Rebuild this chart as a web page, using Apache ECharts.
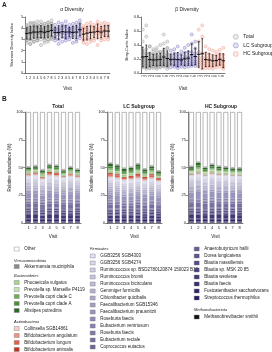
<!DOCTYPE html>
<html><head><meta charset="utf-8">
<script src="https://cdn.jsdelivr.net/npm/echarts@6/dist/echarts.min.js"></script>
<style>html,body{margin:0;padding:0;background:#fff}#c{width:272px;height:352px}</style>
</head><body><div id="c"></div>
<script>
// ---------- DATA ----------
const visits = ['1','2','3','4','5','6','7','8'];
const groupNames = ['Total','LC Subgroup','HC Subgroup'];

// Panel A: Shannon diversity per subject, per visit
const alphaLC = [
  [4.3,4.0,3.9,3.7,3.6,3.3,3.1,2.9],[4.5,4.1,3.9,3.8,3.6,3.4,3.0,2.6],
  [4.4,4.2,4.0,3.8,3.5,3.2,2.8,3.6],[4.6,4.2,4.0,3.7,3.5,3.3,3.1,2.9],
  [4.3,4.0,3.8,3.6,3.5,3.2,3.0,3.9],[4.4,4.1,3.9,3.7,3.4,3.2,2.7,3.6],
  [4.5,4.2,4.0,3.8,3.6,3.3,3.0,2.8],[4.4,4.1,3.9,3.8,3.6,3.3,3.1,4.7]];
const alphaHC = [
  [4.2,4.0,3.8,3.6,3.4,3.1,2.9,2.7],[4.4,4.1,3.9,3.7,3.5,3.2,3.0,2.6],
  [4.5,4.2,3.9,3.6,3.3,3.0,2.8,3.7],[4.3,4.0,3.8,3.6,3.4,3.1,2.9,4.1],
  [4.6,4.3,4.0,3.7,3.5,3.2,2.5,3.9],[4.4,4.1,3.9,3.6,3.4,3.1,2.9,3.8],
  [4.5,4.2,4.0,3.8,3.5,3.3,3.0,3.7],[4.4,4.1,3.9,3.7,3.4,3.2,3.0,4.2]];
// Panel A: Bray-Curtis per subject, per visit
const betaLC = [
  [0.32,0.26,0.22,0.20,0.18,0.15,0.12,0.08],[0.34,0.28,0.24,0.20,0.17,0.14,0.11,0.09],
  [0.38,0.27,0.23,0.19,0.16,0.13,0.10,0.07],[0.31,0.26,0.21,0.19,0.17,0.15,0.12,0.09],
  [0.36,0.29,0.24,0.21,0.18,0.14,0.11,0.08],[0.40,0.30,0.25,0.21,0.18,0.15,0.12,0.09],
  [0.55,0.42,0.30,0.24,0.20,0.16,0.13,0.10],[0.45,0.35,0.28,0.23,0.19,0.16,0.13,0.10]];
const betaHC = [
  [0.62,0.45,0.30,0.22,0.18,0.15,0.12,0.09],[0.68,0.52,0.28,0.22,0.18,0.15,0.11,0.06],
  [0.38,0.28,0.23,0.19,0.16,0.13,0.10,0.07],[0.34,0.27,0.22,0.19,0.16,0.13,0.10,0.07],
  [0.32,0.25,0.21,0.18,0.15,0.12,0.10,0.06],[0.30,0.25,0.21,0.18,0.16,0.13,0.11,0.08],
  [0.33,0.27,0.23,0.20,0.17,0.14,0.12,0.09],[0.36,0.26,0.21,0.17,0.14,0.11,0.09,0.06]];

// Panel B: taxa
const firmNames = ['GGB3256 SGB4303','GGB3256 SGB4274','Ruminococcus sp. BSD2780120874 150023 B10',
  'Ruminococcus bromii','Ruminococcus bicirculans','Gemmiger formicilis','Cibionibacter quicibalis',
  'Faecalibacterium SGB15346','Faecalibacterium prausnitzii','Roseburia faecis','Eubacterium ventriosum',
  'Roseburia faecis ','Eubacterium rectale','Coprococcus eutactus','Anaerobutyricum hallii',
  'Dorea longicatena','Blautia massiliensis','Blautia sp. MSK 20 85','Blautia wexlerae','Blautia faecis',
  'Fusicatenibacter saccharivorans','Streptococcus thermophilus'];
const bacteroNames = ['Phocaeicola vulgatus','Prevotella sp. Marseille P4119','Prevotella copri clade C',
  'Prevotella copri clade A','Alistipes putredinis'];
const actinoNames = ['Collinsella SGB14861','Bifidobacterium angulatum','Bifidobacterium longum','Bifidobacterium animalis'];
const akkName = 'Akkermansia muciniphila';
const methName = 'Methanobrevibacter smithii';
const otherName = 'Other';

// Relative abundance (%) per visit 1..8
const firmTotal = [
  [3.0,3.3,2.8,3.0,3.2,2.9,3.0,3.1],[2.0,2.0,2.0,2.0,2.0,2.0,2.0,2.0],[1.2,1.2,1.2,1.2,1.2,1.2,1.2,1.2],
  [2.6,3.0,2.0,2.5,2.8,2.4,2.7,2.3],[1.5,1.5,1.5,1.5,1.5,1.5,1.5,1.5],[2.0,1.7,2.2,2.0,1.8,2.1,2.0,1.9],
  [1.2,1.2,1.2,1.2,1.2,1.2,1.2,1.2],[2.0,2.2,1.8,2.1,1.9,2.0,2.3,1.8],[5.0,4.8,4.0,5.2,4.6,4.5,4.9,4.6],
  [1.5,1.5,1.5,1.5,1.5,1.5,1.5,1.5],[1.2,1.2,1.2,1.2,1.2,1.2,1.2,1.2],[1.5,1.5,1.5,1.5,1.5,1.5,1.5,1.5],
  [4.0,4.3,3.1,3.9,3.7,3.5,3.6,3.5],[1.0,1.0,1.0,1.0,1.0,1.0,1.0,1.0],[1.5,1.3,1.7,1.4,1.6,1.5,1.2,1.7],
  [1.5,1.5,1.5,1.5,1.5,1.5,1.5,1.5],[1.5,1.5,1.5,1.5,1.5,1.5,1.5,1.5],[1.0,1.0,1.0,1.0,1.0,1.0,1.0,1.0],
  [3.5,3.5,3.0,3.5,3.5,3.2,3.4,3.2],[1.0,1.0,1.0,1.0,1.0,1.0,1.0,1.0],[1.5,1.5,1.5,1.5,1.5,1.5,1.5,1.5],
  [1.0,1.0,1.0,1.0,1.0,1.0,1.0,1.0]];
const firmLC = [
  [2.8,3.0,3.2,2.9,3.1,2.8,3.0,3.2],[2.0,2.0,2.0,2.0,2.0,2.0,2.0,2.0],[1.2,1.2,1.2,1.2,1.2,1.2,1.2,1.2],
  [2.4,2.2,1.9,2.0,2.2,1.8,2.2,1.7],[1.5,1.5,1.5,1.5,1.5,1.5,1.5,1.5],[2.2,2.0,1.8,2.1,1.9,2.2,2.0,1.8],
  [1.2,1.2,1.2,1.2,1.2,1.2,1.2,1.2],[2.1,1.9,2.0,2.2,1.8,2.0,2.1,1.9],[4.6,4.3,3.8,4.0,4.3,3.6,4.3,3.5],
  [1.5,1.5,1.5,1.5,1.5,1.5,1.5,1.5],[1.2,1.2,1.2,1.2,1.2,1.2,1.2,1.2],[1.5,1.5,1.5,1.5,1.5,1.5,1.5,1.5],
  [3.6,3.3,2.9,3.0,3.3,2.8,3.3,2.6],[1.0,1.0,1.0,1.0,1.0,1.0,1.0,1.0],[1.4,1.6,1.5,1.3,1.7,1.5,1.4,1.6],
  [1.5,1.5,1.5,1.5,1.5,1.5,1.5,1.5],[1.5,1.5,1.5,1.5,1.5,1.5,1.5,1.5],[1.0,1.0,1.0,1.0,1.0,1.0,1.0,1.0],
  [3.0,2.8,2.5,2.6,2.8,2.4,2.8,2.3],[1.0,1.0,1.0,1.0,1.0,1.0,1.0,1.0],[1.5,1.5,1.5,1.5,1.5,1.5,1.5,1.5],
  [1.0,1.0,1.0,1.0,1.0,1.0,1.0,1.0]];
const firmHC = [
  [3.1,2.9,3.0,3.3,2.8,3.0,3.2,2.9],[2.0,2.0,2.0,2.0,2.0,2.0,2.0,2.0],[1.2,1.2,1.2,1.2,1.2,1.2,1.2,1.2],
  [2.8,3.0,2.7,3.0,2.8,2.9,2.6,2.8],[1.5,1.5,1.5,1.5,1.5,1.5,1.5,1.5],[1.9,2.1,2.0,1.7,2.2,2.0,1.8,2.1],
  [1.2,1.2,1.2,1.2,1.2,1.2,1.2,1.2],[1.9,2.1,2.2,1.8,2.0,2.1,1.9,2.0],[5.2,5.5,5.0,5.5,5.2,5.1,5.1,4.9],
  [1.5,1.5,1.5,1.5,1.5,1.5,1.5,1.5],[1.2,1.2,1.2,1.2,1.2,1.2,1.2,1.2],[1.5,1.5,1.5,1.5,1.5,1.5,1.5,1.5],
  [4.1,4.4,4.0,4.4,4.1,4.2,3.9,4.1],[1.0,1.0,1.0,1.0,1.0,1.0,1.0,1.0],[1.6,1.4,1.3,1.7,1.5,1.4,1.6,1.5],
  [1.5,1.5,1.5,1.5,1.5,1.5,1.5,1.5],[1.5,1.5,1.5,1.5,1.5,1.5,1.5,1.5],[1.0,1.0,1.0,1.0,1.0,1.0,1.0,1.0],
  [3.5,3.7,3.4,3.7,3.5,3.4,3.5,3.3],[1.0,1.0,1.0,1.0,1.0,1.0,1.0,1.0],[1.5,1.5,1.5,1.5,1.5,1.5,1.5,1.5],
  [1.0,1.0,1.0,1.0,1.0,1.0,1.0,1.0]];
const actinoTotal = [[0.4,0.4,0.4,0.5,0.5,0.3,0.4,0.4],[0.4,0.5,0.4,0.6,0.6,0.3,0.5,0.4],
  [0.7,0.9,0.7,1.4,1.3,0.5,0.9,0.7],[0.5,0.7,0.5,1.0,1.1,0.4,0.7,0.5]];
const actinoLC = [[0.6,0.6,0.5,0.5,0.7,0.5,0.6,0.5],[0.8,0.8,0.6,0.7,0.9,0.7,0.8,0.6],
  [1.5,1.4,1.1,1.3,1.7,1.3,1.5,1.1],[1.1,1.2,0.8,1.0,1.2,1.0,1.1,0.8]];
const actinoHC = [[0.3,0.3,0.2,0.3,0.3,0.2,0.2,0.2],[0.3,0.4,0.3,0.4,0.3,0.3,0.3,0.3],
  [0.3,0.4,0.3,0.4,0.3,0.3,0.3,0.3],[0.3,0.4,0.2,0.4,0.3,0.2,0.2,0.2]];
const bacteroTotal = [[1.5,1.6,1.7,1.8,1.7,1.4,1.5,1.4],[0.5,0.5,0.5,0.6,0.5,0.4,0.5,0.4],
  [0.8,0.8,0.9,0.9,0.9,0.7,0.8,0.7],[1.2,1.2,1.3,1.3,1.3,1.1,1.2,1.1],[1.5,1.5,1.5,1.5,1.5,1.3,1.5,1.3]];
const bacteroLC = [[2.2,2.0,1.9,1.9,2.1,1.7,1.8,1.5],[0.7,0.6,0.6,0.6,0.7,0.5,0.5,0.5],
  [1.3,1.2,1.1,1.1,1.3,1.0,1.1,0.9],[2.0,1.9,1.7,1.7,2.0,1.6,1.6,1.4],[2.2,2.1,2.0,1.9,2.1,1.9,1.9,1.6]];
const bacteroHC = [[1.4,2.0,1.4,1.6,1.5,1.4,1.3,1.3],[1.0,1.4,1.0,1.1,1.0,0.9,0.9,0.9],
  [0.8,1.1,0.8,0.9,0.8,0.8,0.7,0.7],[1.4,2.0,1.4,1.6,1.5,1.4,1.3,1.3],[1.6,2.2,1.6,1.7,1.6,1.5,1.4,1.4]];
const akkTotal = [0.6,0.6,0.6,0.6,0.6,0.6,0.6,0.6];
const akkLC = [0.6,0.6,0.6,0.6,0.6,0.6,0.6,0.6];
const akkHC = [0.6,0.6,0.6,0.6,0.6,0.6,0.6,0.6];
const methTotal = [0.3,0.3,0.3,0.3,0.3,0.3,0.3,0.3];
const methLC = [0.3,0.3,0.3,0.3,0.3,0.3,0.3,0.3];
const methHC = [0.3,0.3,0.3,0.3,0.3,0.3,0.3,0.3];
const otherTotal = [49.4,48.3,52.0,47.3,48.0,52.0,49.4,51.5];
const otherLC = [46.0,47.6,50.6,49.7,46.7,51.2,48.5,53.0];
const otherHC = [49.0,45.2,49.7,47.0,48.8,49.4,50.3,50.3];

// ---------- STYLE ----------
const FONT = 'Liberation Sans, Arial, sans-serif';
const TXT = '#222';
const groupColors = {'Total':'#9a9a9a','LC Subgroup':'#7a72c2','HC Subgroup':'#ef9584'};
function lerp(a,b,t){return Math.round(a+(b-a)*t);}
const firmColors = firmNames.map((_,i)=>{
  const t=i/(firmNames.length-1), a=[226,224,243], b=[38,28,100];
  return 'rgb('+lerp(a[0],b[0],t)+','+lerp(a[1],b[1],t)+','+lerp(a[2],b[2],t)+')';
});
const bacteroColors = ['#a9d392','#c9e4b8','#6fae55','#4c8f3d','#2c6a27'];
const actinoColors = ['#f5cfc8','#ec9584','#e0604d','#c4321f'];
const akkColor = '#8a8a8a', methColor = '#111111', otherColor = '#ffffff';

function mean(a){return a.reduce((s,x)=>s+x,0)/a.length;}
function sd(a){const m=mean(a);return Math.sqrt(a.reduce((s,x)=>s+(x-m)*(x-m),0)/(a.length-1));}

const cats24 = visits.concat(visits, visits);
const alphaTotal = alphaLC.map((a,i)=>a.concat(alphaHC[i]));
const betaTotal = betaLC.map((a,i)=>a.concat(betaHC[i]));

function pts(lists, off){const o=[];lists.forEach((vals,v)=>vals.forEach(y=>o.push([off+v,y])));return o;}
function stats(lists, off){return lists.map((vals,v)=>[off+v, mean(vals), sd(vals)]);}

function errRender(params, api){
  const x=api.value(0), m=api.value(1), s=api.value(2);
  const c=api.coord([x,m]), t=api.coord([x,m+s]), b=api.coord([x,Math.max(0,m-s)]);
  const w=api.size([1,0])[0];
  const st={stroke:'#000', lineWidth:0.7};
  return {type:'group', children:[
    {type:'line', shape:{x1:c[0]-w*0.5,y1:c[1],x2:c[0]+w*0.5,y2:c[1]}, style:{stroke:'#000',lineWidth:0.9}},
    {type:'line', shape:{x1:t[0],y1:t[1],x2:b[0],y2:b[1]}, style:st},
    {type:'line', shape:{x1:t[0]-w*0.25,y1:t[1],x2:t[0]+w*0.25,y2:t[1]}, style:st},
    {type:'line', shape:{x1:b[0]-w*0.25,y1:b[1],x2:b[0]+w*0.25,y2:b[1]}, style:st}
  ]};
}

const series = [];
function addScatter(ax, dataSets){
  ['Total','LC Subgroup','HC Subgroup'].forEach((g,gi)=>{
    const col = groupColors[g];
    series.push({type:'scatter', name:g, xAxisIndex:ax, yAxisIndex:ax, symbolSize:3,
      data: pts(dataSets[gi], gi*8),
      itemStyle:{color: echarts.color.modifyAlpha(col,0.25), borderColor:col, borderWidth:0.6}});
    series.push({type:'custom', name:g+' mean', xAxisIndex:ax, yAxisIndex:ax, renderItem:errRender,
      encode:{x:0,y:1}, data: stats(dataSets[gi], gi*8), z:5, silent:true});
  });
}
addScatter(0, [alphaTotal, alphaLC, alphaHC]);
addScatter(1, [betaTotal, betaLC, betaHC]);

function barS(ax, stack, name, data, color, extra){
  const s = {type:'bar', name, xAxisIndex:ax, yAxisIndex:ax, stack, data, barWidth:5,
    itemStyle:{color, borderColor:'rgba(90,90,90,0.35)', borderWidth:0.2}};
  if(extra) Object.assign(s.itemStyle, extra);
  series.push(s);
}
function addStack(ax, stack, firm, actino, bactero, akk, meth, other){
  barS(ax, stack, methName, meth, methColor);
  for(let i=firm.length-1;i>=0;i--) barS(ax, stack, firmNames[i], firm[i], firmColors[i]);
  for(let i=0;i<actino.length;i++) barS(ax, stack, actinoNames[i], actino[i], actinoColors[i]);
  for(let i=0;i<bactero.length;i++) barS(ax, stack, bacteroNames[i], bactero[i], bacteroColors[i]);
  barS(ax, stack, akkName, akk, akkColor);
  barS(ax, stack, otherName, other, otherColor, {borderColor:'#9a9a9a', borderWidth:0.7});
}
addStack(2,'t', firmTotal, actinoTotal, bacteroTotal, akkTotal, methTotal, otherTotal);
addStack(3,'l', firmLC, actinoLC, bacteroLC, akkLC, methLC, otherLC);
addStack(4,'h', firmHC, actinoHC, bacteroHC, akkHC, methHC, otherHC);

const axLine = {show:true, lineStyle:{color:'#222', width:0.6}};
const axTick = {show:true, length:2, lineStyle:{color:'#222', width:0.5}};
function lab(fs, extra){return Object.assign({fontSize:fs, color:TXT, fontFamily:FONT, margin:2}, extra||{});}
function nameTS(fs){return {fontSize:fs, color:TXT, fontFamily:FONT};}

const xAxis = [
  {gridIndex:0, type:'category', data:cats24, axisLine:axLine, axisTick:{show:false},
   axisLabel:lab(3.6,{interval:0, margin:3}), name:'Visit', nameLocation:'middle', nameGap:13, nameTextStyle:nameTS(4.5)},
  {gridIndex:1, type:'category', data:cats24, axisLine:axLine, axisTick:{show:false},
   axisLabel:lab(3.6,{interval:0, rotate:90, margin:2}), name:'Visit', nameLocation:'middle', nameGap:13, nameTextStyle:nameTS(4.5)},
];
const yAxis = [
  {gridIndex:0, type:'value', min:0, max:5, interval:1, axisLine:axLine, axisTick:axTick, splitLine:{show:false},
   axisLabel:lab(3.8), name:'Shannon Diversity Index', nameLocation:'middle', nameGap:11, nameTextStyle:nameTS(4)},
  {gridIndex:1, type:'value', min:0, max:0.8, interval:0.2, axisLine:axLine, axisTick:axTick, splitLine:{show:false},
   axisLabel:lab(3.8,{formatter:v=>v.toFixed(1)}), name:'Bray-Curtis Index', nameLocation:'middle', nameGap:12, nameTextStyle:nameTS(4)},
];
[2,3,4].forEach(g=>{
  xAxis.push({gridIndex:g, type:'category', data:visits, axisLine:axLine, axisTick:{show:false},
    axisLabel:lab(4,{interval:0, margin:3}), name:'Visit', nameLocation:'middle', nameGap:11, nameTextStyle:nameTS(4.5)});
  yAxis.push({gridIndex:g, type:'value', min:0, max:100, interval:25, axisLine:axLine, axisTick:axTick, splitLine:{show:false},
    axisLabel:lab(4), name:'Relative abundance (%)', nameLocation:'middle', nameGap:12, nameTextStyle:nameTS(4.5)});
});

const legBase = {orient:'vertical', padding:0, itemWidth:5, itemHeight:4, itemGap:2, icon:'rect',
  selectedMode:false, textStyle:{fontSize:4.5, lineHeight:5, color:TXT, fontFamily:FONT},
  itemStyle:{borderColor:'#777', borderWidth:0.4}, formatter:n=>n.trim()};
function leg(left, top, data){return Object.assign({}, legBase, {left, top, data});}

const headers = [
  ['Verrucomicrobiota',14,261],['Bacteroidetes',14,276],['Actinobacteria',14,322],
  ['Firmicutes',90,249],['Methanobacteriota',194,310]];

const option = {
  animation:false,
  textStyle:{fontFamily:FONT},
  title:[
    {text:'α Diversity', left:67, top:2, textAlign:'center', textStyle:{fontSize:5, fontWeight:'normal', color:TXT, fontFamily:FONT}},
    {text:'β Diversity', left:182, top:2, textAlign:'center', textStyle:{fontSize:5, fontWeight:'normal', color:TXT, fontFamily:FONT}},
    {text:'Total', left:53, top:99, textAlign:'center', textStyle:{fontSize:5, fontWeight:'bold', color:TXT, fontFamily:FONT}},
    {text:'LC Subgroup', left:134, top:99, textAlign:'center', textStyle:{fontSize:5, fontWeight:'bold', color:TXT, fontFamily:FONT}},
    {text:'HC Subgroup', left:216, top:99, textAlign:'center', textStyle:{fontSize:5, fontWeight:'bold', color:TXT, fontFamily:FONT}},
  ],
  grid:[
    {left:25, top:17, width:85, height:56},
    {left:141, top:17, width:84, height:56},
    {left:25, top:112, width:56, height:111},
    {left:107, top:112, width:55, height:111},
    {left:188, top:112, width:55, height:111},
  ],
  xAxis, yAxis,
  legend:[
    Object.assign({}, legBase, {left:233, top:34, itemWidth:5, itemHeight:5, itemGap:3, icon:'circle',
      textStyle:{fontSize:5, lineHeight:5, color:TXT, fontFamily:FONT}, itemStyle:{borderWidth:0.6},
      data:['Total','LC Subgroup','HC Subgroup']}),
    leg(14, 246.5, [otherName]),
    leg(14, 264, [akkName]),
    leg(14, 280, bacteroNames),
    leg(14, 326, actinoNames),
    leg(90, 253.5, firmNames.slice(0,14)),
    leg(194, 246.5, firmNames.slice(14)),
    leg(194, 314.5, [methName]),
  ],
  graphic:[
    {type:'text', left:2, top:2, style:{text:'A', fontSize:6.5, fontWeight:'bold', fill:TXT, fontFamily:FONT}},
    {type:'text', left:2, top:96, style:{text:'B', fontSize:6.5, fontWeight:'bold', fill:TXT, fontFamily:FONT}},
  ].concat(headers.map(h=>({type:'text', x:h[1], y:h[2], style:{text:h[0], fontSize:4, fontStyle:'italic',
     fill:TXT, fontFamily:FONT, verticalAlign:'middle'}}))),
  series
};
const chart = echarts.init(document.getElementById('c'));
chart.setOption(option);
</script>
</body></html>
